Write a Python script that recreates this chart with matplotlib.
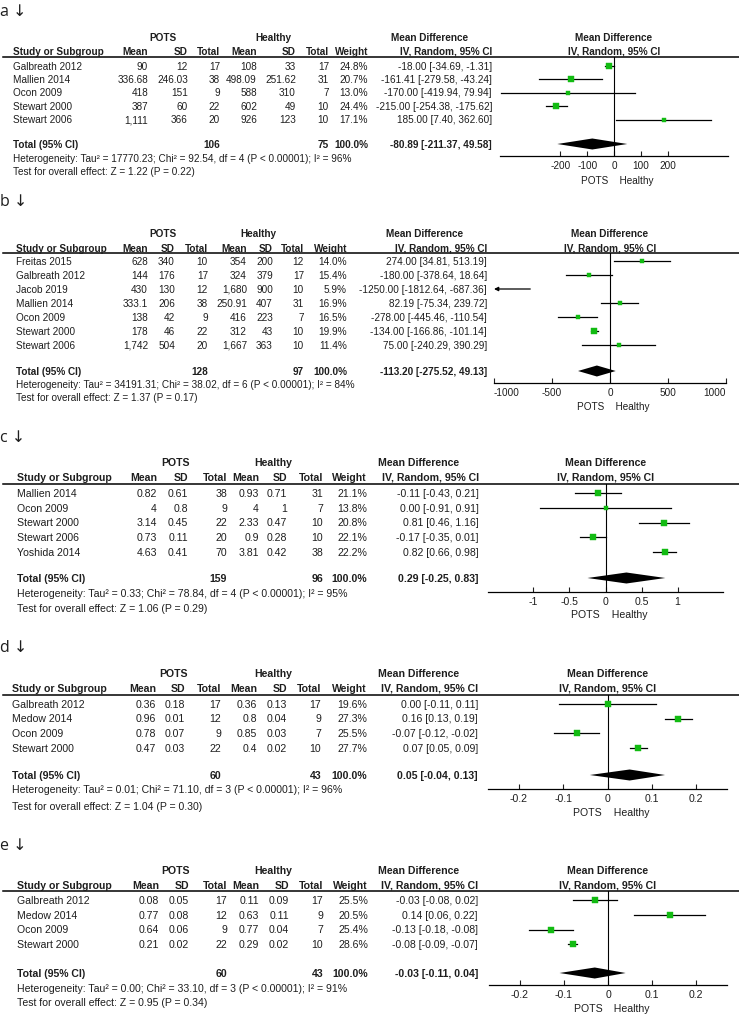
import math

import matplotlib
matplotlib.use("Agg")
import matplotlib.pyplot as plt
from matplotlib.transforms import blended_transform_factory

W, H = 739, 1015
TXT = "#1e1e1e"
GREEN = "#12bb12"
SANS = ["Liberation Sans", "DejaVu Sans"]
LBL = ["Open Sans", "DejaVu Sans"]

# ---------------- panel a ----------------
a_study = ["Galbreath 2012", "Mallien 2014", "Ocon 2009", "Stewart 2000", "Stewart 2006"]
a_pots_mean = [90, 336.68, 418, 387, 1111]
a_pots_sd = [12, 246.03, 151, 60, 366]
a_pots_n = [17, 38, 9, 22, 20]
a_hc_mean = [108, 498.09, 588, 602, 926]
a_hc_sd = [33, 251.62, 310, 49, 123]
a_hc_n = [17, 31, 7, 10, 10]
a_weight = [24.8, 20.7, 13.0, 24.4, 17.1]
a_md = [-18.00, -161.41, -170.00, -215.00, 185.00]
a_lo = [-34.69, -279.58, -419.94, -254.38, 7.40]
a_hi = [-1.31, -43.24, 79.94, -175.62, 362.60]
a_total = [-80.89, -211.37, 49.58]
a_het = "Tau\u00b2 = 17770.23; Chi\u00b2 = 92.54, df = 4 (P < 0.00001); I\u00b2 = 96%"
a_test = "Z = 1.22 (P = 0.22)"
a_ticks = [-200, -100, 0, 100, 200]
a_xlim = (-425, 425)

# ---------------- panel b ----------------
b_study = ["Freitas 2015", "Galbreath 2012", "Jacob 2019", "Mallien 2014",
           "Ocon 2009", "Stewart 2000", "Stewart 2006"]
b_pots_mean = [628, 144, 430, 333.1, 138, 178, 1742]
b_pots_sd = [340, 176, 130, 206, 42, 46, 504]
b_pots_n = [10, 17, 12, 38, 9, 22, 20]
b_hc_mean = [354, 324, 1680, 250.91, 416, 312, 1667]
b_hc_sd = [200, 379, 900, 407, 223, 43, 363]
b_hc_n = [12, 17, 10, 31, 7, 10, 10]
b_weight = [14.0, 15.4, 5.9, 16.9, 16.5, 19.9, 11.4]
b_md = [274.00, -180.00, -1250.00, 82.19, -278.00, -134.00, 75.00]
b_lo = [34.81, -378.64, -1812.64, -75.34, -445.46, -166.86, -240.29]
b_hi = [513.19, 18.64, -687.36, 239.72, -110.54, -101.14, 390.29]
b_total = [-113.20, -275.52, 49.13]
b_het = "Tau\u00b2 = 34191.31; Chi\u00b2 = 38.02, df = 6 (P < 0.00001); I\u00b2 = 84%"
b_test = "Z = 1.37 (P = 0.17)"
b_ticks = [-1000, -500, 0, 500, 1000]
b_xlim = (-1000, 1000)

# ---------------- panel c ----------------
c_study = ["Mallien 2014", "Ocon 2009", "Stewart 2000", "Stewart 2006", "Yoshida 2014"]
c_pots_mean = [0.82, 4, 3.14, 0.73, 4.63]
c_pots_sd = [0.61, 0.8, 0.45, 0.11, 0.41]
c_pots_n = [38, 9, 22, 20, 70]
c_hc_mean = [0.93, 4, 2.33, 0.9, 3.81]
c_hc_sd = [0.71, 1, 0.47, 0.28, 0.42]
c_hc_n = [31, 7, 10, 10, 38]
c_weight = [21.1, 13.8, 20.8, 22.1, 22.2]
c_md = [-0.11, 0.00, 0.81, -0.17, 0.82]
c_lo = [-0.43, -0.91, 0.46, -0.35, 0.66]
c_hi = [0.21, 0.91, 1.16, 0.01, 0.98]
c_total = [0.29, -0.25, 0.83]
c_het = "Tau\u00b2 = 0.33; Chi\u00b2 = 78.84, df = 4 (P < 0.00001); I\u00b2 = 95%"
c_test = "Z = 1.06 (P = 0.29)"
c_ticks = [-1, -0.5, 0, 0.5, 1]
c_xlim = (-1.63, 1.63)

# ---------------- panel d ----------------
d_study = ["Galbreath 2012", "Medow 2014", "Ocon 2009", "Stewart 2000"]
d_pots_mean = [0.36, 0.96, 0.78, 0.47]
d_pots_sd = [0.18, 0.01, 0.07, 0.03]
d_pots_n = [17, 12, 9, 22]
d_hc_mean = [0.36, 0.8, 0.85, 0.4]
d_hc_sd = [0.13, 0.04, 0.03, 0.02]
d_hc_n = [17, 9, 7, 10]
d_weight = [19.6, 27.3, 25.5, 27.7]
d_md = [0.00, 0.16, -0.07, 0.07]
d_lo = [-0.11, 0.13, -0.12, 0.05]
d_hi = [0.11, 0.19, -0.02, 0.09]
d_total = [0.05, -0.04, 0.13]
d_het = "Tau\u00b2 = 0.01; Chi\u00b2 = 71.10, df = 3 (P < 0.00001); I\u00b2 = 96%"
d_test = "Z = 1.04 (P = 0.30)"
d_ticks = [-0.2, -0.1, 0, 0.1, 0.2]
d_xlim = (-0.27, 0.27)

# ---------------- panel e ----------------
e_study = ["Galbreath 2012", "Medow 2014", "Ocon 2009", "Stewart 2000"]
e_pots_mean = [0.08, 0.77, 0.64, 0.21]
e_pots_sd = [0.05, 0.08, 0.06, 0.02]
e_pots_n = [17, 12, 9, 22]
e_hc_mean = [0.11, 0.63, 0.77, 0.29]
e_hc_sd = [0.09, 0.11, 0.04, 0.02]
e_hc_n = [17, 9, 7, 10]
e_weight = [25.5, 20.5, 25.4, 28.6]
e_md = [-0.03, 0.14, -0.13, -0.08]
e_lo = [-0.08, 0.06, -0.18, -0.09]
e_hi = [0.02, 0.22, -0.08, -0.07]
e_total = [-0.03, -0.11, 0.04]
e_het = "Tau\u00b2 = 0.00; Chi\u00b2 = 33.10, df = 3 (P < 0.00001); I\u00b2 = 91%"
e_test = "Z = 0.95 (P = 0.34)"
e_ticks = [-0.2, -0.1, 0, 0.1, 0.2]
e_xlim = (-0.27, 0.27)


def pack(label, study, pm, ps, pn, hm, hs, hn, w, md, lo, hi, tot, het, test, ticks, xlim):
    return dict(label=label, study=study, cols=[pm, ps, pn, hm, hs, hn], weight=w,
                md=md, lo=lo, hi=hi, total=tot, het=het, test=test, ticks=ticks, xlim=xlim)


panels = [
    pack("a", a_study, a_pots_mean, a_pots_sd, a_pots_n, a_hc_mean, a_hc_sd, a_hc_n,
         a_weight, a_md, a_lo, a_hi, a_total, a_het, a_test, a_ticks, a_xlim),
    pack("b", b_study, b_pots_mean, b_pots_sd, b_pots_n, b_hc_mean, b_hc_sd, b_hc_n,
         b_weight, b_md, b_lo, b_hi, b_total, b_het, b_test, b_ticks, b_xlim),
    pack("c", c_study, c_pots_mean, c_pots_sd, c_pots_n, c_hc_mean, c_hc_sd, c_hc_n,
         c_weight, c_md, c_lo, c_hi, c_total, c_het, c_test, c_ticks, c_xlim),
    pack("d", d_study, d_pots_mean, d_pots_sd, d_pots_n, d_hc_mean, d_hc_sd, d_hc_n,
         d_weight, d_md, d_lo, d_hi, d_total, d_het, d_test, d_ticks, d_xlim),
    pack("e", e_study, e_pots_mean, e_pots_sd, e_pots_n, e_hc_mean, e_hc_sd, e_hc_n,
         e_weight, e_md, e_lo, e_hi, e_total, e_het, e_test, e_ticks, e_xlim),
]

# layout in figure pixels (y from top)
layouts = [
    dict(fs=7.2, lab=16, h1=37, h2=51, line=57, row0=66, step=13.4, tot=144, het=158, test=171.5,
         sx=13, cols=[148, 188, 220, 257, 296, 329, 368, 492], grp=[163, 273, 430],
         ax=(500, 728), axis_y=156, fav=180),
    dict(fs=7.2, lab=206, h1=233, h2=248, line=253, row0=261, step=14, tot=371, het=384, test=397.5,
         sx=16, cols=[148, 175, 208, 247, 273, 304, 347, 487], grp=[163, 258, 425],
         ax=(494, 726), axis_y=383, fav=406),
    dict(fs=7.6, lab=442, h1=462, h2=477, line=484, row0=493, step=14.75, tot=578, het=593, test=608,
         sx=17, cols=[157, 188, 227, 259, 287, 323, 367, 479], grp=[175, 273, 419],
         ax=(488, 723), axis_y=592, fav=614),
    dict(fs=7.6, lab=652, h1=673, h2=688, line=695, row0=704, step=14.7, tot=775, het=789, test=806,
         sx=12, cols=[156, 185, 221, 257, 287, 321, 367, 478], grp=[173, 273, 419],
         ax=(488, 727), axis_y=789, fav=812),
    dict(fs=7.6, lab=850, h1=870, h2=885, line=891, row0=900, step=14.8, tot=973, het=988, test=1002,
         sx=17, cols=[159, 189, 227, 259, 289, 323, 368, 478], grp=[175, 273, 419],
         ax=(489, 727), axis_y=985, fav=1008),
]


def fmt(v):
    return f"{v:,}" if isinstance(v, int) else str(v)


def ci_text(md, lo, hi):
    return f"{md:.2f} [{lo:.2f}, {hi:.2f}]"


fig = plt.figure(figsize=(W / 100, H / 100), dpi=100)
bg = fig.add_axes([0, 0, 1, 1])
bg.set_xlim(0, W)
bg.set_ylim(H, 0)
bg.axis("off")

for p, L in zip(panels, layouts):
    base = dict(fontsize=L["fs"], color=TXT, family=SANS, va="baseline")
    bold = dict(base, fontweight="bold")
    cols = L["cols"]
    # baseline sits half a cap height below the row centre
    off = 0.36 * L["fs"] * 100 / 72

    def put(x, y, s, ha, style, **kw):
        bg.text(x, y + off, s, ha=ha, **style, **kw)

    bg.text(0, L["lab"], p["label"] + " \u2193", fontsize=11.5, color=TXT, family=LBL, va="baseline")

    # header
    for x, s in zip(L["grp"], ["POTS", "Healthy", "Mean Difference"]):
        put(x, L["h1"], s, "center", bold)
    put(L["sx"], L["h2"], "Study or Subgroup", "left", bold)
    for x, s in zip(cols, ["Mean", "SD", "Total", "Mean", "SD", "Total", "Weight",
                           "IV, Random, 95% CI"]):
        put(x, L["h2"], s, "right", bold)
    bg.plot([3, W], [L["line"], L["line"]], color="black", lw=1.1)

    # study rows
    rows = [L["row0"] + i * L["step"] for i in range(len(p["study"]))]
    for i, y in enumerate(rows):
        put(L["sx"], y, p["study"][i], "left", base)
        for x, col in zip(cols[:6], p["cols"]):
            put(x, y, fmt(col[i]), "right", base)
        put(cols[6], y, f"{p['weight'][i]:.1f}%", "right", base)
        put(cols[7], y, ci_text(p["md"][i], p["lo"][i], p["hi"][i]), "right", base)

    # total row
    put(L["sx"], L["tot"], "Total (95% CI)", "left", bold)
    put(cols[2], L["tot"], str(sum(p["cols"][2])), "right", bold)
    put(cols[5], L["tot"], str(sum(p["cols"][5])), "right", bold)
    put(cols[6], L["tot"], "100.0%", "right", bold)
    put(cols[7], L["tot"], ci_text(*p["total"]), "right", bold)
    put(L["sx"], L["het"], "Heterogeneity: " + p["het"], "left", base)
    put(L["sx"], L["test"], "Test for overall effect: " + p["test"], "left", base)

    # forest plot
    x0, x1 = L["ax"]
    top, bottom = L["line"], L["axis_y"]
    ax = fig.add_axes([x0 / W, 1 - bottom / H, (x1 - x0) / W, (bottom - top) / H])
    ax.patch.set_alpha(0)
    xmin, xmax = p["xlim"]
    ax.set_xlim(xmin, xmax)
    ax.set_ylim(bottom, top)
    for side in ("top", "left", "right"):
        ax.spines[side].set_visible(False)
    ax.spines["bottom"].set_linewidth(0.9)
    ax.axvline(0, color="black", lw=0.8)

    for i, y in enumerate(rows):
        lo, hi, md = p["lo"][i], p["hi"][i], p["md"][i]
        if lo < xmin:
            ax.annotate("", xy=(xmin, y), xytext=(hi, y),
                        arrowprops=dict(arrowstyle="-|>", color="black", lw=0.9,
                                        mutation_scale=6, shrinkA=0, shrinkB=0))
        else:
            ax.plot([lo, min(hi, xmax)], [y, y], color="black", lw=0.9)
        if xmin <= md <= xmax:
            ax.plot(md, y, "s", ms=0.86 * math.sqrt(p["weight"][i]),
                    color=GREEN, mec=GREEN, mew=0.3)

    tmd, tlo, thi = p["total"]
    yt = L["tot"]
    ax.fill([tlo, tmd, thi, tmd], [yt, yt - 5.5, yt, yt + 5.5], color="black", lw=0)

    ax.set_yticks([])
    ax.set_xticks(p["ticks"])
    labels = ax.set_xticklabels([f"{t:g}" for t in p["ticks"]], family=SANS)
    if p["ticks"][0] == xmin:
        labels[0].set_horizontalalignment("left")
    if p["ticks"][-1] == xmax:
        labels[-1].set_horizontalalignment("right")
    ax.tick_params(axis="x", direction="in", length=3.5, width=0.8,
                   labelsize=L["fs"], pad=3.5, colors=TXT)

    # header over the plot and favours labels
    tr = blended_transform_factory(ax.transData, bg.transData)
    put(0, L["h1"], "Mean Difference", "center", bold, transform=tr)
    put(0, L["h2"], "IV, Random, 95% CI", "center", bold, transform=tr)
    put(0, L["fav"], "POTS  ", "right", base, transform=tr)
    put(0, L["fav"], "  Healthy", "left", base, transform=tr)

fig.savefig("out.png", dpi=100)
